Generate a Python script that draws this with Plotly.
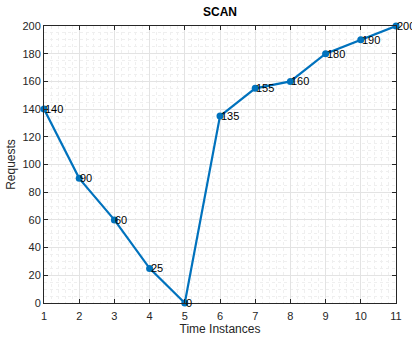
import plotly.graph_objects as go

time_instances = [1, 2, 3, 4, 5, 6, 7, 8, 9, 10, 11]
requests = [140, 90, 60, 25, 0, 135, 155, 160, 180, 190, 200]
x_ticks = list(range(1, 12))
y_ticks = list(range(0, 201, 20))

line_color = "#0072BD"
axis_color = "#262626"
font_family = "Liberation Sans, Arial, sans-serif"

fig = go.Figure()
fig.add_trace(go.Scatter(
    x=time_instances, y=requests, mode="lines+markers",
    line=dict(color=line_color, width=2.2),
    marker=dict(color=line_color, size=7),
    cliponaxis=False, showlegend=False,
))

for xv, yv in zip(time_instances, requests):
    fig.add_annotation(x=xv, y=yv, text=str(yv), showarrow=False,
                       xanchor="left", yanchor="middle", xshift=-1,
                       font=dict(size=11, color="#000000", family=font_family))

axis_common = dict(
    showline=True, linecolor=axis_color, linewidth=1, mirror="ticks",
    ticks="inside", ticklen=4, tickcolor=axis_color,
    showgrid=True, gridcolor="#e3e3e3", gridwidth=1,
    zeroline=False, automargin=False,
    tickfont=dict(size=11, color=axis_color, family=font_family),
)

fig.update_xaxes(range=[1, 11], tickvals=x_ticks, ticklabelstandoff=3,
                 minor=dict(dtick=0.2, showgrid=True, gridcolor="#efefef", griddash="dot", ticks=""),
                 title=dict(text="Time Instances", font=dict(size=12, color=axis_color, family=font_family), standoff=1),
                 **axis_common)
fig.update_yaxes(range=[0, 200], tickvals=y_ticks,
                 minor=dict(dtick=5, showgrid=True, gridcolor="#efefef", griddash="dot", ticks=""),
                 title=dict(text="Requests", font=dict(size=12, color=axis_color, family=font_family), standoff=4),
                 **axis_common)

fig.update_layout(
    width=412, height=342,
    margin=dict(l=44, r=16, t=26, b=39),
    paper_bgcolor="white", plot_bgcolor="white",
    title=dict(text="<b>SCAN</b>", x=0.5, xanchor="center", xref="paper", y=0.965, yanchor="middle",
               font=dict(size=12, color="#000000", family=font_family)),
)

fig.write_html("out.html")
